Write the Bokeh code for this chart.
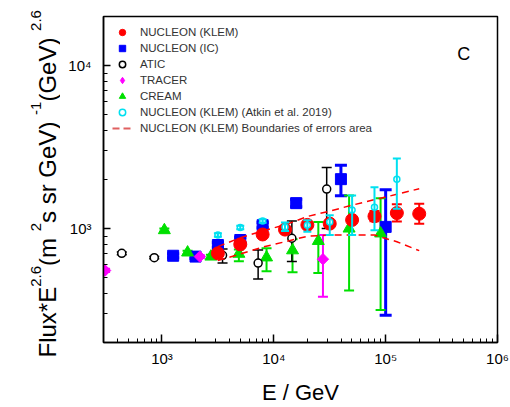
import math
from bokeh.plotting import figure
from bokeh.layouts import row
from bokeh.models import (Range1d, ColumnDataSource, Whisker, TeeHead, Label,
                          Legend, LegendItem, CustomJSTickFormatter, FixedTicker)
from bokeh.embed import file_html
from bokeh.resources import INLINE

# ---------------- data ----------------
klem_e = [3162, 5012, 7943, 12589, 19953, 31623, 50119, 79433, 125893, 199526]
klem_f = [705, 800, 920, 986, 1053, 1072, 1130, 1190, 1245, 1233]
klem_lo = [685, 778, 893, 958, 1022, 1035, 1080, 1110, 1106, 1072]
klem_hi = [725, 822, 947, 1014, 1084, 1110, 1180, 1280, 1412, 1419]

ic_e = [1259, 1995, 3162, 5012, 7943, 15849, 39811, 100000]
ic_f = [681, 673, 793, 851, 1049, 1432, 2010, 1024]
ic_lo = [662, 655, 768, 822, 1012, 1360, 1592, 294]
ic_hi = [700, 692, 820, 882, 1088, 1515, 2445, 1733]

atic_e = [437, 853, 3480, 7240, 14500, 29700]
atic_f = [705, 663, 685, 614, 872, 1746]
atic_lo = [692, 652, 615, 491, 629, 1000]
atic_hi = [718, 675, 750, 740, 1114, 2366]

tracer_e = [310, 2180, 27500]
tracer_f = [553, 673, 649]
tracer_lo = [541, 660, 382]
tracer_hi = [566, 686, 912]

cream_e = [1050, 1694, 2738, 4870, 8610, 14700, 25000, 47100, 90100]
cream_f = [977, 713, 673, 700, 665, 735, 839, 1000, 933]
cream_lo = [955, 695, 657, 630, 547, 540, 533, 417, 316]
cream_hi = [1000, 732, 690, 745, 757, 860, 1098, 1593, 1534]

atkin_e = [3162, 5012, 7943, 12589, 19953, 31623, 50119, 79433, 125893]
atkin_f = [912, 1014, 1113, 1024, 1049, 1098, 1300, 1350, 2010]
atkin_lo = [890, 990, 1085, 965, 955, 912, 912, 978, 1322]
atkin_hi = [935, 1040, 1140, 1090, 1124, 1205, 1593, 1790, 2690]

bnd_e = [3162, 5012, 7943, 12589, 19953, 31623, 50119, 79433, 125893, 199526]
bnd_up = [775, 878, 968, 1053, 1186, 1280, 1392, 1504, 1623, 1755]
bnd_lo = [637, 698, 769, 830, 897, 912, 912, 912, 830, 732]

x_tick_exps = [3, 4, 5, 6]
x_tick_labels = ["10\u00b3", "10\u2074", "10\u2075", "10\u2076"]
y_tick_exps = [3, 4]
y_tick_labels = ["10\u00b3", "10\u2074"]

series_names = ["NUCLEON (KLEM)", "NUCLEON (IC)", "ATIC", "TRACER", "CREAM",
                "NUCLEON (KLEM) (Atkin et al. 2019)",
                "NUCLEON (KLEM) Boundaries of errors area"]

x_title = "E / GeV"
y_title_pieces = [("Flux*E", False), ("2.6", True), (" (m", False), ("2", True),
                  (" s sr GeV)", False), ("-1", True), (" (GeV)", False), ("2.6", True)]
panel_tag = "C"

FONT = "Liberation Sans"
LEFT_W = 60

# ---------------- main figure ----------------
p = figure(width=510 - LEFT_W, height=407, x_axis_type="log", y_axis_type="log",
           x_range=Range1d(300, 1e6), y_range=Range1d(200, 20000),
           output_backend="svg", toolbar_location=None,
           min_border_left=103 - LEFT_W, min_border_right=13, min_border_top=16,
           min_border_bottom=60)
p.frame_align = False
p.background_fill_color = "white"
p.border_fill_color = "white"
p.outline_line_color = "black"
p.outline_line_width = 1.5
p.xgrid.visible = False
p.ygrid.visible = False

x_minor = [m * 10 ** k for k in range(2, 6) for m in range(2, 10)]
y_minor = [m * 10 ** k for k in range(2, 5) for m in range(2, 10)]
p.xaxis.ticker = FixedTicker(ticks=[10 ** k for k in x_tick_exps], minor_ticks=x_minor)
p.yaxis.ticker = FixedTicker(ticks=[10 ** k for k in y_tick_exps], minor_ticks=y_minor)

tick_code = ("const e = Math.log10(tick); const r = Math.round(e);"
             " if (Math.abs(e - r) > 1e-6) return '';"
             " const i = exps.indexOf(r); return i >= 0 ? labels[i] : '';")
p.xaxis.formatter = CustomJSTickFormatter(args=dict(exps=x_tick_exps, labels=x_tick_labels),
                                          code=tick_code)
p.yaxis.formatter = CustomJSTickFormatter(args=dict(exps=y_tick_exps, labels=y_tick_labels),
                                          code=tick_code)
for ax in (p.xaxis[0], p.yaxis[0]):
    ax.axis_line_width = 1.5
    ax.axis_line_color = "black"
    ax.major_tick_out = 0
    ax.minor_tick_out = 0
    ax.major_tick_line_width = 1.5
    ax.minor_tick_line_width = 1
    ax.major_tick_line_color = "black"
    ax.minor_tick_line_color = "black"
    ax.major_label_text_font = FONT
    ax.major_label_text_font_size = "15px"
    ax.major_label_text_color = "black"
p.xaxis.major_tick_in = 8
p.xaxis.minor_tick_in = 4
p.yaxis.major_tick_in = 7
p.yaxis.minor_tick_in = 4
p.xaxis.major_label_standoff = 7
p.yaxis.major_label_standoff = 12
p.xaxis.axis_label = x_title
p.xaxis.axis_label_text_font = FONT
p.xaxis.axis_label_text_font_size = "22px"
p.xaxis.axis_label_text_font_style = "normal"
p.xaxis.axis_label_text_color = "black"
p.xaxis.axis_label_standoff = 10


def err(e, lo, hi, color, width, head=10, level="underlay"):
    src = ColumnDataSource(dict(x=e, lo=lo, hi=hi))
    w = Whisker(source=src, base="x", lower="lo", upper="hi", dimension="height",
                line_color=color, line_width=width, level=level,
                upper_head=TeeHead(size=head, line_color=color, line_width=width),
                lower_head=TeeHead(size=head, line_color=color, line_width=width))
    p.add_layout(w)


BLUE, RED, GREEN, MAG, CYAN = "#0000ff", "#ff0000", "#00e000", "#ff00ff", "#00e0f0"
NAN = float("nan")

err(ic_e, ic_lo, ic_hi, BLUE, 3, 12)
err(cream_e, cream_lo, cream_hi, GREEN, 2, 10)
err(tracer_e, tracer_lo, tracer_hi, MAG, 2, 10)
err(atic_e, atic_lo, atic_hi, "black", 1.5, 10)
err(klem_e, klem_lo, klem_hi, RED, 2, 10)

r_ic = p.scatter(ic_e, ic_f, marker="square", size=11, fill_color=BLUE, line_color=BLUE)
r_cream = p.scatter(cream_e, cream_f, marker="triangle", size=12, fill_color=GREEN, line_color=GREEN)
p.scatter(tracer_e, tracer_f, marker="square", angle=math.pi / 4, size=8,
          fill_color=MAG, line_color=MAG)
r_tracer_leg = p.scatter([NAN], [NAN], marker="diamond", size=10, fill_color=MAG, line_color=MAG)
r_atic = p.scatter(atic_e, atic_f, marker="circle", size=8, fill_color="white",
                   line_color="black", line_width=1.5)
r_klem = p.scatter(klem_e, klem_f, marker="circle", size=13, fill_color=RED, line_color=RED)
r_up = p.line(bnd_e, bnd_up, line_color=RED, line_width=1.5, line_dash="7 5")
r_lo = p.line(bnd_e, bnd_lo, line_color=RED, line_width=1.5, line_dash="7 5")
r_bnd_leg = p.line([NAN, NAN], [NAN, NAN], line_color="#e06060", line_width=2, line_dash="7 4")

err(atkin_e, atkin_lo, atkin_hi, CYAN, 2, 8, level="annotation")
r_atkin = p.scatter(atkin_e, atkin_f, marker="circle", size=6, fill_color="white",
                    line_color=CYAN, line_width=1.5, level="annotation")

legend = Legend(items=[
    LegendItem(label=series_names[0], renderers=[r_klem]),
    LegendItem(label=series_names[1], renderers=[r_ic]),
    LegendItem(label=series_names[2], renderers=[r_atic]),
    LegendItem(label=series_names[3], renderers=[r_tracer_leg]),
    LegendItem(label=series_names[4], renderers=[r_cream]),
    LegendItem(label=series_names[5], renderers=[r_atkin]),
    LegendItem(label=series_names[6], renderers=[r_bnd_leg]),
], location=(9, 206), padding=5, spacing=0, glyph_width=20, glyph_height=16,
    label_height=16, label_standoff=8, border_line_color=None,
    background_fill_alpha=0, label_text_font=FONT, label_text_font_size="11.5px",
    label_text_color="#333333", margin=0)
p.add_layout(legend)

p.add_layout(Label(x=353.7, y=289, x_units="screen", y_units="screen", text=panel_tag,
                   text_align="left", text_baseline="alphabetic", text_font=FONT,
                   text_font_size="18px", text_color="black"))

# ---------------- y-axis title panel (composed text with superscripts) ----------------
q = figure(width=LEFT_W, height=407, x_range=Range1d(0, LEFT_W), y_range=Range1d(0, 407),
           x_axis_location=None, y_axis_location=None, min_border=0,
           output_backend="svg", toolbar_location=None)
q.frame_align = False
q.outline_line_color = None
q.background_fill_color = "white"
q.border_fill_color = "white"
q.grid.visible = False

AW = {" ": 278, "(": 333, ")": 333, "*": 389, "-": 333, ".": 278, "1": 556, "2": 556,
      "6": 556, "E": 667, "F": 611, "G": 778, "V": 667, "e": 556, "l": 222, "m": 833,
      "r": 333, "s": 500, "u": 556, "x": 500}
MAIN, SUP = 24, 15
pos = 407 - 357.0
for txt, sup in y_title_pieces:
    fs = SUP if sup else MAIN
    q.add_layout(Label(x=35 if sup else 47, y=pos, text=txt, angle=math.pi / 2,
                       text_align="left", text_baseline="alphabetic", text_font=FONT,
                       text_font_size=f"{fs}px", text_color="black"))
    pos += sum(AW[c] for c in txt) / 1000 * fs

layout = row(q, p)
with open("out.html", "w", encoding="utf-8") as f:
    f.write(file_html(layout, INLINE))
